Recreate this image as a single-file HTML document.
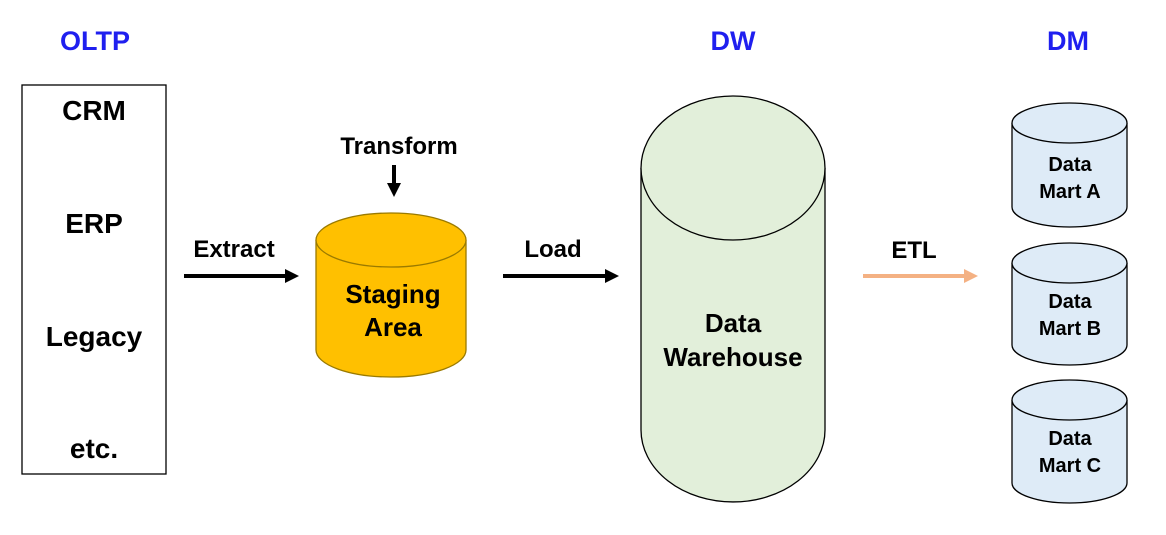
<!DOCTYPE html>
<html><head><meta charset="utf-8"><style>
body{margin:0;background:#fff}
svg text{font-family:"Liberation Sans","Noto Sans CJK KR",sans-serif;font-weight:bold;text-anchor:middle}
</style></head><body>
<svg width="1166" height="530" viewBox="0 0 1166 530" xmlns="http://www.w3.org/2000/svg">
<defs>
<marker id="ab" markerWidth="10" markerHeight="10" refX="6" refY="5" orient="auto" markerUnits="userSpaceOnUse"><path d="M0,0 L14,5 L0,10 z" fill="#000" transform="scale(1)"/></marker>
</defs>
<g font-size="27" fill="#1a1aff">
<text x="95" y="50" fill="#1f1fef">OLTP</text>
<text x="733" y="50" fill="#1f1fef">DW</text>
<text x="1068" y="50" fill="#1f1fef">DM</text>
</g>
<rect x="22" y="85" width="144" height="389" fill="#fff" stroke="#000" stroke-width="1.3"/>
<g font-size="28" fill="#000">
<text x="94" y="120">CRM</text>
<text x="94" y="233">ERP</text>
<text x="94" y="346">Legacy</text>
<text x="94" y="458">etc.</text>
</g>
<g font-size="24" fill="#000">
<text x="234" y="257">Extract</text>
<text x="553" y="257">Load</text>
<text x="399" y="154">Transform</text>
<text x="914" y="258">ETL</text>
</g>
<!-- arrows -->
<line x1="184" y1="276" x2="286" y2="276" stroke="#000" stroke-width="4"/>
<path d="M285,269 L299,276 L285,283 z" fill="#000"/>
<line x1="503" y1="276" x2="606" y2="276" stroke="#000" stroke-width="4"/>
<path d="M605,269 L619,276 L605,283 z" fill="#000"/>
<line x1="394" y1="165" x2="394" y2="185" stroke="#000" stroke-width="4"/>
<path d="M387,183 L394,197 L401,183 z" fill="#000"/>
<line x1="863" y1="276" x2="965" y2="276" stroke="#f4b183" stroke-width="4"/>
<path d="M964,269 L978,276 L964,283 z" fill="#f4b183"/>
<!-- staging -->
<path d="M316,240 L316,350 A75,27 0 0 0 466,350 L466,240" fill="#ffc000" stroke="#9a7a00" stroke-width="1.3"/>
<ellipse cx="391" cy="240" rx="75" ry="27" fill="#ffc000" stroke="#9a7a00" stroke-width="1.3"/>
<text x="393" y="303" font-size="26">Staging</text>
<text x="393" y="336" font-size="26">Area</text>
<!-- DW -->
<path d="M641,168 L641,430 A92,72 0 0 0 825,430 L825,168" fill="#e2efda" stroke="#000" stroke-width="1.3"/>
<ellipse cx="733" cy="168" rx="92" ry="72" fill="#e2efda" stroke="#000" stroke-width="1.3"/>
<text x="733" y="332" font-size="26">Data</text>
<text x="733" y="366" font-size="26">Warehouse</text>
<!-- marts -->
<g stroke="#000" stroke-width="1.3" fill="#deebf7">
<path d="M1012,123 L1012,207 A57.5,20 0 0 0 1127,207 L1127,123"/>
<ellipse cx="1069.5" cy="123" rx="57.5" ry="20"/>
<path d="M1012,263 L1012,345 A57.5,20 0 0 0 1127,345 L1127,263"/>
<ellipse cx="1069.5" cy="263" rx="57.5" ry="20"/>
<path d="M1012,400 L1012,483 A57.5,20 0 0 0 1127,483 L1127,400"/>
<ellipse cx="1069.5" cy="400" rx="57.5" ry="20"/>
</g>
<g font-size="20" fill="#000">
<text x="1070" y="171">Data</text><text x="1070" y="198">Mart A</text>
<text x="1070" y="308">Data</text><text x="1070" y="335">Mart B</text>
<text x="1070" y="445">Data</text><text x="1070" y="472">Mart C</text>
</g>
</svg>
</body></html>
